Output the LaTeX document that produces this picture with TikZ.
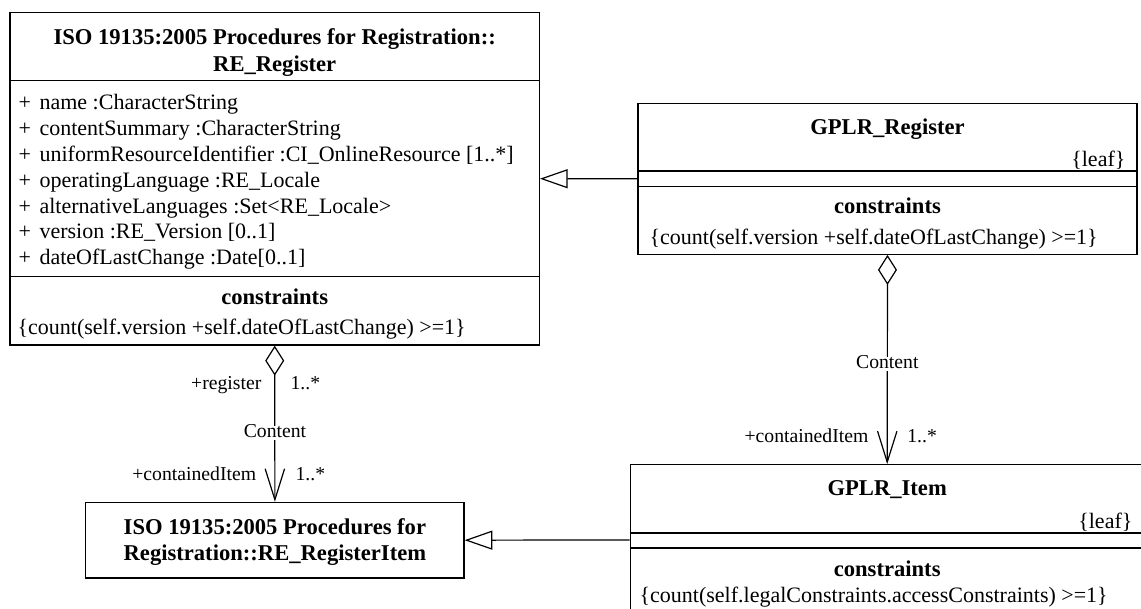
\documentclass[tikz,border=0pt]{standalone}
\usepackage{fontspec}
\setmainfont{Liberation Serif}
\usetikzlibrary{arrows.meta, calc}

\begin{document}
\begin{tikzpicture}[x=1pt, y=-1pt, line width=1.2pt,
  classbox/.style={draw, rectangle, inner sep=0pt},
  txt/.style={inner sep=0pt, font=\fontsize{22}{25.83}\selectfont},
  titletxt/.style={inner sep=0pt, font=\fontsize{22.6}{26.6}\selectfont\bfseries},
  role/.style={inner sep=0pt, font=\fontsize{19.7}{23}\selectfont},
  assocname/.style={role, fill=white, inner xsep=2pt, inner ysep=2.5pt, text height=0.9em, text depth=0pt},
  generalize/.style={-{Triangle[open, length=27.7pt, width=19pt]}},
  aggregate/.style={{Diamond[open, length=30pt, width=19pt]}-{Straight Barb[length=31pt, width=19.4pt]}}]
% Page frame
\clip (0,0) rectangle (1141,608);

% Class boxes
\node[classbox, minimum width=529.3pt, minimum height=332.7pt] (register) at (274.7,178.7) {};
\node[classbox, minimum width=499pt, minimum height=151pt] (gplrRegister) at (887.5,178.8) {};
\node[classbox, minimum width=378.3pt, minimum height=75.7pt] (registerItem) at (274.9,540.2) {};
\node[classbox, minimum width=513.8pt, minimum height=150.3pt] (gplrItem) at (887.2,539.9) {};

% Compartments
\draw (register.west |- 0,80.7) -- (register.east |- 0,80.7);
\draw (register.west |- 0,276.7) -- (register.east |- 0,276.7);
\draw (gplrRegister.west |- 0,171) -- (gplrRegister.east |- 0,171);
\draw (gplrRegister.west |- 0,186.3) -- (gplrRegister.east |- 0,186.3);
\draw (gplrItem.west |- 0,533) -- (gplrItem.east |- 0,533);
\draw (gplrItem.west |- 0,548) -- (gplrItem.east |- 0,548);

%% RE_Register
\node[titletxt, anchor=base] (registerTitleA) at (274.7,44.7) {ISO 19135:2005 Procedures for Registration::};
\node[titletxt, anchor=base] (registerTitleB) at (274.7,71.3) {RE\_Register};
\foreach \attr [count=\i from 0] in {name :CharacterString, contentSummary :CharacterString,
    uniformResourceIdentifier :CI\_OnlineResource [1..*], operatingLanguage :RE\_Locale,
    alternativeLanguages :Set<RE\_Locale>, version :RE\_Version [0..1], dateOfLastChange :Date[0..1]}
  \node[txt, anchor=base west] (attr\i) at (18,109.7+\i*25.83) {\makebox[21pt][l]{+}\attr};
\node[titletxt, anchor=base] (registerConsHead) at (274.7,304) {constraints};
\node[txt, anchor=base west] (registerCons) at (17,334.7) {\{count(self.version +self.dateOfLastChange) >=1\}};

%% GPLR_Register
\node[titletxt, anchor=base] (gplrRegisterTitle) at (887.5,134) {GPLR\_Register};
\node[txt, anchor=base east] (gplrRegisterLeaf) at (1126,166) {\{leaf\}};
\node[titletxt, anchor=base] (gplrRegisterConsHead) at (887.5,213.7) {constraints};
\node[txt, anchor=base west] (gplrRegisterCons) at (649,244.7) {\{count(self.version +self.dateOfLastChange) >=1\}};

%% RE_RegisterItem
\node[titletxt, anchor=base] (registerItemTitleA) at (274.9,534) {ISO 19135:2005 Procedures for};
\node[titletxt, anchor=base] (registerItemTitleB) at (274.9,560) {Registration::RE\_RegisterItem};

%% GPLR_Item
\node[titletxt, anchor=base] (gplrItemTitle) at (887.2,495.7) {GPLR\_Item};
\node[txt, anchor=base east] (gplrItemLeaf) at (1133,528.7) {\{leaf\}};
\node[titletxt, anchor=base] (gplrItemConsHead) at (887.2,576) {constraints};
\node[txt, anchor=base west] (gplrItemCons) at (639,602.5) {\{count(self.legalConstraints.accessConstraints) >=1\}};

% Draw generalizations
\draw[generalize] (gplrRegister.west) -- (register.east);
\draw[generalize] (gplrItem.west) -- (registerItem.east);

% Draw aggregations
\draw[aggregate] (register.south) -- (registerItem.north);
\draw[aggregate] (gplrRegister.south) -- (gplrItem.north);

% Association labels
\node[assocname, anchor=base] (leftContent) at (275,437.5) {Content};
\node[role, anchor=base east] (registerRole) at (262,389) {+register};
\node[role, anchor=base west] (registerMult) at (290,389) {1..*};
\node[role, anchor=base east] (itemRole) at (256.7,480) {+containedItem};
\node[role, anchor=base west] (itemMult) at (295,480) {1..*};
\node[assocname, anchor=base] (rightContent) at (887.3,368.7) {Content};
\node[role, anchor=base east] (gplrItemRole) at (869,442) {+containedItem};
\node[role, anchor=base west] (gplrItemMult) at (906.7,442) {1..*};

\end{tikzpicture}
\end{document}
